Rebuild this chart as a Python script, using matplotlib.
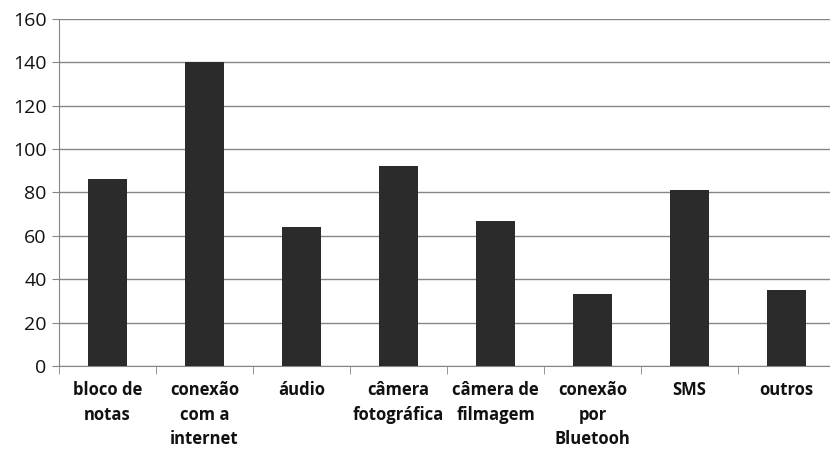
import matplotlib
matplotlib.use("Agg")
import matplotlib.pyplot as plt
import numpy as np

categorias = ["bloco de\nnotas", "conexão\ncom a\ninternet", "áudio", "câmera\nfotográfica",
              "câmera de\nfilmagem", "conexão\npor\nBluetooh", "SMS", "outros"]
valores = [86, 140, 64, 92, 67, 33, 81, 35]
yticks = [0, 20, 40, 60, 80, 100, 120, 140, 160]

plt.rcParams['font.family'] = ['Open Sans', 'DejaVu Sans']

fig = plt.figure(figsize=(8.3, 4.51), dpi=100)
ax = fig.add_axes([0.0711, 0.1885, 0.935, 0.7694])

x = np.arange(len(categorias))
ax.bar(x, valores, width=0.4, color="#2b2b2b", zorder=3)

ax.set_xlim(-0.5, len(categorias) - 0.5)
ax.set_ylim(0, 160)
ax.set_yticks(yticks)
ax.tick_params(axis='y', labelsize=14, length=5, color="#868686", pad=4, labelcolor="#111111")
ax.yaxis.grid(True, color="#868686", linewidth=1, zorder=0)

# category labels on major ticks, tick marks at the boundaries
ax.set_xticks(x)
ax.set_xticklabels(categorias, fontweight='bold', fontsize=12, linespacing=1.45, color="#111111")
ax.tick_params(axis='x', which='major', length=0, pad=11)
ax.set_xticks(np.arange(len(categorias) + 1) - 0.5, minor=True)
ax.tick_params(axis='x', which='minor', length=6, color="#868686")

for s in ["top", "right"]:
    ax.spines[s].set_visible(False)
for s in ["left", "bottom"]:
    ax.spines[s].set_color("#868686")

fig.savefig("out.png", dpi=100)
